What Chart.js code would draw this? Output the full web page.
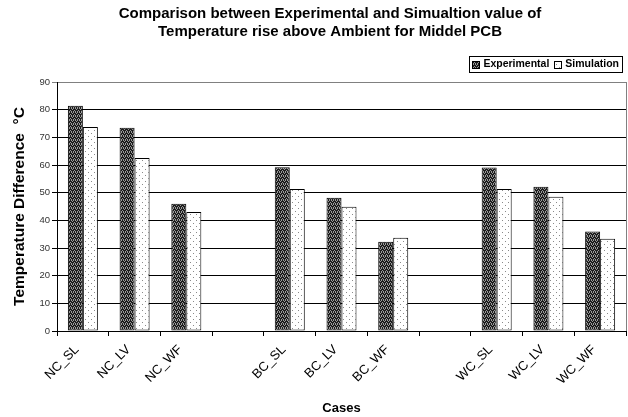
<!DOCTYPE html>
<html>
<head>
<meta charset="utf-8">
<script src="https://cdn.jsdelivr.net/npm/chart.js@4/dist/chart.umd.min.js"></script>
<style>
  html, body { margin: 0; padding: 0; background: #ffffff; }
  #wrap { width: 628px; height: 417px; }
</style>
</head>
<body>
<div id="wrap"><canvas id="c" width="628" height="417"></canvas></div>
<script>
const categories = ['NC_SL', 'NC_LV', 'NC_WF', '', 'BC_SL', 'BC_LV', 'BC_WF', '', 'WC_SL', 'WC_LV', 'WC_WF'];
const experimental = [81.4, 73.5, 46.0, null, 59.2, 48.2, 32.3, null, 59.1, 52.1, 36.0];
const simulation = [73.7, 62.5, 43.0, null, 51.3, 44.9, 33.7, null, 51.3, 48.5, 33.3];
const seriesNames = ['Experimental', 'Simulation'];
const yMin = 0, yMax = 90, yStep = 10;
const titleLines = ['Comparison between Experimental and Simualtion value of', 'Temperature rise above Ambient for Middel PCB'];
const xTitle = 'Cases';
const yTitle = 'Temperature Difference  \u00B0C';

const FONT = '"Liberation Sans", Arial, sans-serif';

function makePattern(kind) {
  const p = document.createElement('canvas');
  const ctx = p.getContext('2d');
  if (kind === 'dark') {
    p.width = 4; p.height = 4;
    ctx.fillStyle = '#1c1c1c';
    ctx.fillRect(0, 0, 4, 4);
    ctx.fillStyle = '#9a9a9a';
    ctx.fillRect(1, 0, 1, 1);
    ctx.fillRect(3, 0, 1, 1);
    ctx.fillRect(0, 1, 1, 1);
    ctx.fillRect(2, 2, 1, 1);
    ctx.fillRect(1, 3, 1, 1);
    ctx.fillRect(3, 3, 1, 1);
  } else {
    p.width = 6; p.height = 6;
    ctx.fillStyle = '#ffffff';
    ctx.fillRect(0, 0, 6, 6);
    ctx.fillStyle = '#8a8a8a';
    ctx.fillRect(1, 1, 1, 1);
    ctx.fillRect(4, 4, 1, 1);
  }
  return document.getElementById('c').getContext('2d').createPattern(p, 'repeat');
}

const darkPat = makePattern('dark');
const lightPat = makePattern('light');

const decor = {
  id: 'decor',
  afterDraw(chart) {
    const ctx = chart.ctx;
    const a = chart.chartArea;
    ctx.save();
    // right border of plot area
    ctx.strokeStyle = '#808080';
    ctx.lineWidth = 1;
    ctx.beginPath();
    ctx.moveTo(Math.round(a.right) + 0.5, Math.round(a.top));
    ctx.lineTo(Math.round(a.right) + 0.5, Math.round(a.bottom));
    ctx.stroke();
    // title
    ctx.fillStyle = '#000';
    ctx.font = 'bold 15px ' + FONT;
    ctx.textAlign = 'center';
    ctx.textBaseline = 'middle';
    ctx.fillText(titleLines[0], 330, 14);
    ctx.fillText(titleLines[1], 330, 32);
    // legend
    ctx.font = 'bold 10.5px ' + FONT;
    ctx.textAlign = 'left';
    const pats = [darkPat, lightPat];
    const sw = 8, gap = 3, between = 5, padX = 3;
    const widths = seriesNames.map(n => ctx.measureText(n).width);
    let total = padX * 2;
    widths.forEach((w, i) => { total += sw + gap + w + (i < widths.length - 1 ? between : 0); });
    const right = 622, top = 56, h = 16;
    const left = right - total;
    ctx.strokeStyle = '#000';
    ctx.strokeRect(Math.round(left) + 0.5, top + 0.5, Math.round(total), h);
    let x = left + padX;
    const cy = top + h / 2 + 0.5;
    seriesNames.forEach((n, i) => {
      ctx.fillStyle = pats[i];
      ctx.fillRect(Math.round(x), Math.round(cy - sw / 2), sw, sw);
      ctx.strokeStyle = '#000';
      ctx.strokeRect(Math.round(x) + 0.5, Math.round(cy - sw / 2) + 0.5, sw - 1, sw - 1);
      x += sw + gap;
      ctx.fillStyle = '#000';
      ctx.fillText(n, x, cy);
      x += widths[i] + between;
    });
    ctx.restore();
  }
};

new Chart(document.getElementById('c'), {
  type: 'bar',
  data: {
    labels: categories,
    datasets: [
      { label: seriesNames[0], data: experimental, backgroundColor: darkPat, borderColor: '#000', borderWidth: 1, borderSkipped: false },
      { label: seriesNames[1], data: simulation, backgroundColor: lightPat, borderColor: '#000', borderWidth: 1, borderSkipped: false }
    ]
  },
  options: {
    responsive: false,
    animation: false,
    devicePixelRatio: 1,
    layout: { padding: { left: 0, right: 2, top: 82, bottom: 0 } },
    datasets: { bar: { categoryPercentage: 0.58, barPercentage: 1.0 } },
    plugins: {
      legend: { display: false },
      title: { display: false },
      tooltip: { enabled: false }
    },
    scales: {
      x: {
        afterFit(s) { s.height = 86; },
        grid: { display: true, drawOnChartArea: false, drawTicks: true, tickLength: 5, color: '#000', offset: true },
        border: { display: true, color: '#000', width: 1 },
        ticks: {
          minRotation: 45, maxRotation: 45, autoSkip: false, labelOffset: -6,
          font: { family: FONT, size: 13 }, color: '#000', padding: 6
        },
        title: { display: true, text: xTitle, font: { family: FONT, size: 13, weight: 'bold' }, color: '#000', padding: { top: 0, bottom: 1 } }
      },
      y: {
        min: yMin, max: yMax,
        afterFit(s) { s.width = 57; },
        grid: {
          color: ctx => (ctx.tick && ctx.tick.value === yMax) ? '#808080' : '#000',
          tickLength: 5, drawTicks: true
        },
        border: { display: true, color: '#000', width: 1 },
        ticks: { stepSize: yStep, font: { family: FONT, size: 9.5 }, color: '#333', padding: 2 },
        title: { display: true, text: yTitle, font: { family: FONT, size: 15.5, weight: 'bold' }, color: '#000', padding: { top: 10, bottom: 0 } }
      }
    }
  },
  plugins: [decor]
});
</script>
</body>
</html>
